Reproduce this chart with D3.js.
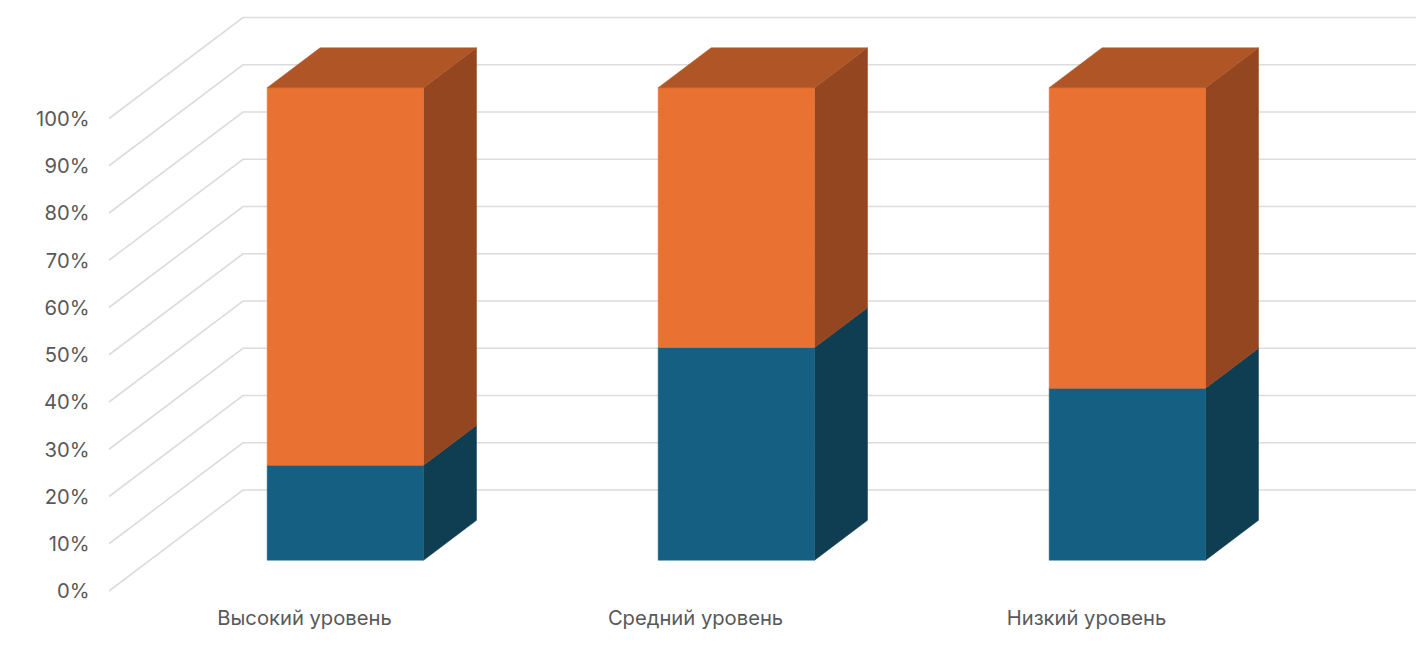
<!DOCTYPE html>
<html lang="ru">
<head>
<meta charset="utf-8">
<title>Уровни</title>
<script src="https://cdn.jsdelivr.net/npm/d3@7"></script>
<style>
  html, body { margin: 0; background: #fff; overflow: hidden; }
  svg { display: block; }
  .domain { display: none; }
</style>
</head>
<body>
<svg id="chart" width="1428" height="652"></svg>
<script>
// Chart data
const categories = ["Высокий уровень", "Средний уровень", "Низкий уровень"];
const seriesBlue = [20.1, 45, 36.4];
const seriesOrange = [79.9, 55, 63.6];
const percentTicks = [0, 10, 20, 30, 40, 50, 60, 70, 80, 90, 100];

const rows = categories.map((c, i) => ({ category: c, blue: seriesBlue[i], orange: seriesOrange[i] }));
const stacked = d3.stack().keys(["blue", "orange"])(rows);

const colors = {
  blue: { front: "#156082", side: "#0f3e52", top: "#115069" },
  orange: { front: "#e97132", side: "#93461f", top: "#b05626" }
};

const svg = d3.select("#chart");

// Front plane scales
const xScale = d3.scaleBand().domain(categories).range([109, 1282]).paddingInner(0.6).paddingOuter(0.3);
const yScale = d3.scaleLinear().domain([0, 100]).range([591, 118.5]);

// Depth goes from the front of the floor (0) to the back wall (1)
const depthX = d3.scaleLinear().domain([0, 1]).range([0, 134]);
const depthY = d3.scaleLinear().domain([0, 1]).range([0, -101]);
const barFront = 0.305, barBack = 0.7;

function project(x, value, depth) {
  return [x + depthX(depth), yScale(value) + depthY(depth)];
}

const line = d3.line();

// Gridlines, front edge -> back wall -> right end
svg.append("g").selectAll("path")
  .data(percentTicks)
  .enter().append("path")
  .attr("fill", "none")
  .attr("stroke", "#dcdcdc")
  .attr("stroke-width", 1.6)
  .attr("d", d => line([
    project(xScale.range()[0], d, 0),
    project(xScale.range()[0], d, 1),
    project(xScale.range()[1], d, 1)
  ]));

// Bars
stacked.forEach(function(layer) {
  const c = colors[layer.key];
  const g = svg.append("g");
  layer.forEach(function(d) {
    const x0 = xScale(d.data.category);
    const x1 = x0 + xScale.bandwidth();

    // side face
    g.append("path")
      .attr("fill", c.side).attr("stroke", c.side).attr("stroke-width", 0.5)
      .attr("d", line([
        project(x1, d[0], barFront), project(x1, d[0], barBack),
        project(x1, d[1], barBack), project(x1, d[1], barFront)
      ]) + "Z");

    // front face
    g.append("path")
      .attr("fill", c.front).attr("stroke", c.front).attr("stroke-width", 0.5)
      .attr("d", line([
        project(x0, d[0], barFront), project(x1, d[0], barFront),
        project(x1, d[1], barFront), project(x0, d[1], barFront)
      ]) + "Z");

    // top face
    if (d[1] >= 100) {
      g.append("path")
        .attr("fill", c.top).attr("stroke", c.top).attr("stroke-width", 0.5)
        .attr("d", line([
          project(x0, d[1], barFront), project(x1, d[1], barFront),
          project(x1, d[1], barBack), project(x0, d[1], barBack)
        ]) + "Z");
    }
  });
});

// Axes
svg.append("g")
  .attr("transform", "translate(89.5,0.5)")
  .call(d3.axisLeft(yScale).tickValues(percentTicks).tickFormat(d => d + "%").tickSize(0).tickPadding(0));

svg.append("g")
  .attr("transform", "translate(0,611)")
  .call(d3.axisBottom(xScale).tickSize(0).tickPadding(0));

svg.selectAll(".tick text")
  .style("font-family", "Inter, 'Noto Sans', sans-serif")
  .style("font-size", "20.2px")
  .style("fill", "#595959");
svg.selectAll(".tick line").remove();
</script>
</body>
</html>
